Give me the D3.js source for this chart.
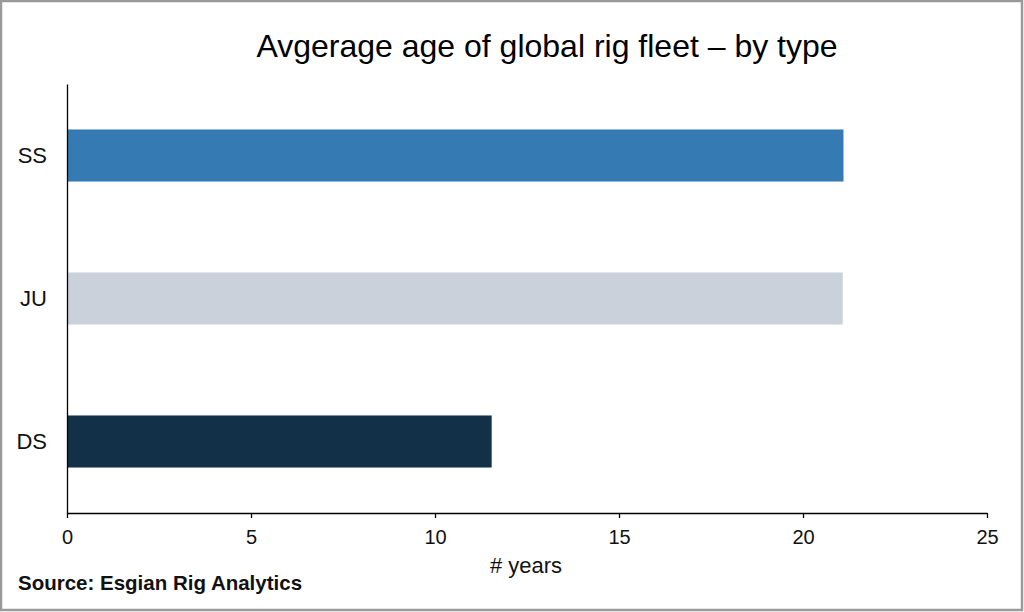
<!DOCTYPE html>
<html>
<head>
<meta charset="utf-8">
<script src="https://cdn.jsdelivr.net/npm/d3@7"></script>
<style>
  html, body { margin: 0; padding: 0; background: #fff; }
  svg { display: block; font-family: "Liberation Sans", Arial, sans-serif; }
</style>
</head>
<body>
<div id="chart"></div>
<script>
var categories = ['SS', 'JU', 'DS'];
var ages = [21.1, 21.08, 11.54];
var barColors = ['#357ab3', '#cbd1da', '#133049'];
var xTicks = [0, 5, 10, 15, 20, 25];

(function () {
  var width = 1024, height = 612;
  var margin = { top: 84, right: 37, bottom: 99, left: 67 };

  var svg = d3.select('#chart')
    .append('svg')
    .attr('width', width)
    .attr('height', height)
    .attr('viewBox', [0, 0, width, height]);

  // outer frame
  svg.append('rect')
    .attr('x', 1).attr('y', 1)
    .attr('width', width - 3).attr('height', height - 3)
    .attr('fill', '#fff')
    .attr('stroke', '#9a9a9a')
    .attr('stroke-width', 2.5);

  var x = d3.scaleLinear()
    .domain([0, 25])
    .range([margin.left, width - margin.right]);

  var y = d3.scaleBand()
    .domain(categories)
    .range([margin.top, height - margin.bottom])
    .paddingInner(0.636)
    .paddingOuter(0.318);

  // bars
  svg.append('g')
    .selectAll('rect')
    .data(categories)
    .join('rect')
    .attr('x', x(0))
    .attr('y', function (d) { return y(d); })
    .attr('width', function (d, i) { return x(ages[i]) - x(0); })
    .attr('height', y.bandwidth())
    .attr('fill', function (d, i) { return barColors[i]; });

  // x axis
  var xAxis = svg.append('g')
    .attr('transform', 'translate(0,' + (height - margin.bottom) + ')')
    .call(d3.axisBottom(x).tickValues(xTicks).tickSize(5).tickPadding(12).tickSizeOuter(0));
  xAxis.select('.domain').attr('stroke', '#000').attr('stroke-width', 1.3);
  xAxis.selectAll('.tick line').attr('stroke', '#000').attr('stroke-width', 1.3);
  xAxis.selectAll('.tick text')
    .attr('font-size', 20)
    .attr('font-family', '"Liberation Sans", Arial, sans-serif')
    .attr('fill', '#111');

  // y axis
  var yAxis = svg.append('g')
    .attr('transform', 'translate(' + margin.left + ',0)')
    .call(d3.axisLeft(y).tickSize(0).tickPadding(20));
  yAxis.select('.domain').attr('stroke', '#000').attr('stroke-width', 1.3);
  yAxis.selectAll('.tick text')
    .attr('font-size', 22)
    .attr('font-family', '"Liberation Sans", Arial, sans-serif')
    .attr('fill', '#111');

  // title
  svg.append('text')
    .attr('x', 547)
    .attr('y', 57)
    .attr('text-anchor', 'middle')
    .attr('font-size', 32)
    .attr('fill', '#000')
    .text('Avgerage age of global rig fleet \u2013 by type');

  // x axis label
  svg.append('text')
    .attr('x', 526)
    .attr('y', 573)
    .attr('text-anchor', 'middle')
    .attr('font-size', 22)
    .attr('fill', '#111')
    .text('# years');

  // source
  svg.append('text')
    .attr('x', 18)
    .attr('y', 590)
    .attr('font-size', 20.5)
    .attr('font-weight', 'bold')
    .attr('fill', '#111')
    .text('Source: Esgian Rig Analytics');
})();
</script>
</body>
</html>
